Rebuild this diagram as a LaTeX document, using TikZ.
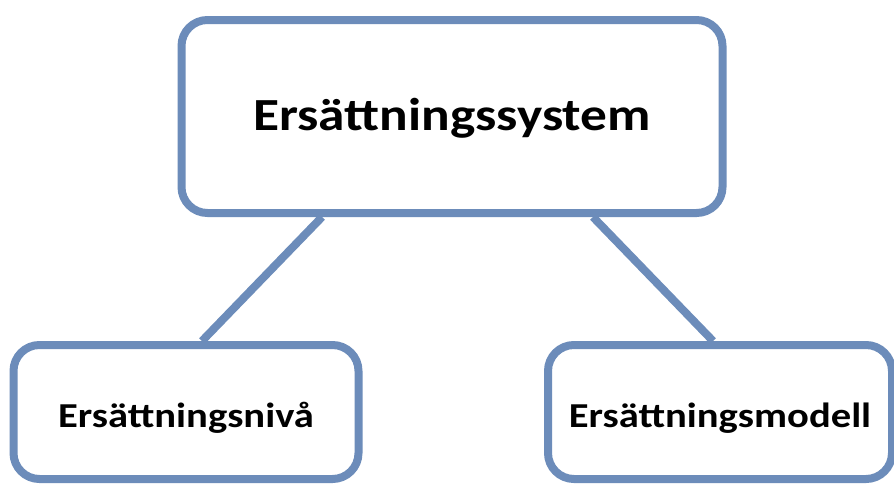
\documentclass[tikz,border=0pt]{standalone}
\usepackage{fontspec}
\setmainfont{Carlito}
\definecolor{boxblue}{RGB}{108,140,186}
\tikzset{
  box/.style={draw=boxblue, line width=8pt, rounded corners=26pt, fill=white,
    inner sep=0pt, font=\bfseries},
  link/.style={draw=boxblue, line width=8pt}
}
\newcommand{\boxtext}[2]{\raisebox{#1}[0pt][0pt]{\scalebox{1.16}[1]{#2}}}
\begin{document}
\begin{tikzpicture}[x=1pt,y=-1pt]
\useasboundingbox[fill=white] (0,0) rectangle (894,485);
\node [box, minimum width=541pt, minimum height=193pt, font=\bfseries\fontsize{46}{50}\selectfont] (sys) at (452,116.5) {\boxtext{-13.5pt}{Ersättningssystem}};
\node [box, minimum width=345pt, minimum height=134pt, font=\bfseries\fontsize{35}{40}\selectfont] (niva) at (186,412) {\boxtext{-15pt}{Ersättningsnivå}};
\node [box, minimum width=344pt, minimum height=134pt, font=\bfseries\fontsize{35}{40}\selectfont] (modell) at (720,412) {\boxtext{-15pt}{Ersättningsmodell}};
\draw [link] ([xshift=-130pt]sys.south) -- ([xshift=16pt]niva.north);
\draw [link] ([xshift=141pt]sys.south) -- ([xshift=-7pt]modell.north);
\end{tikzpicture}
\end{document}
